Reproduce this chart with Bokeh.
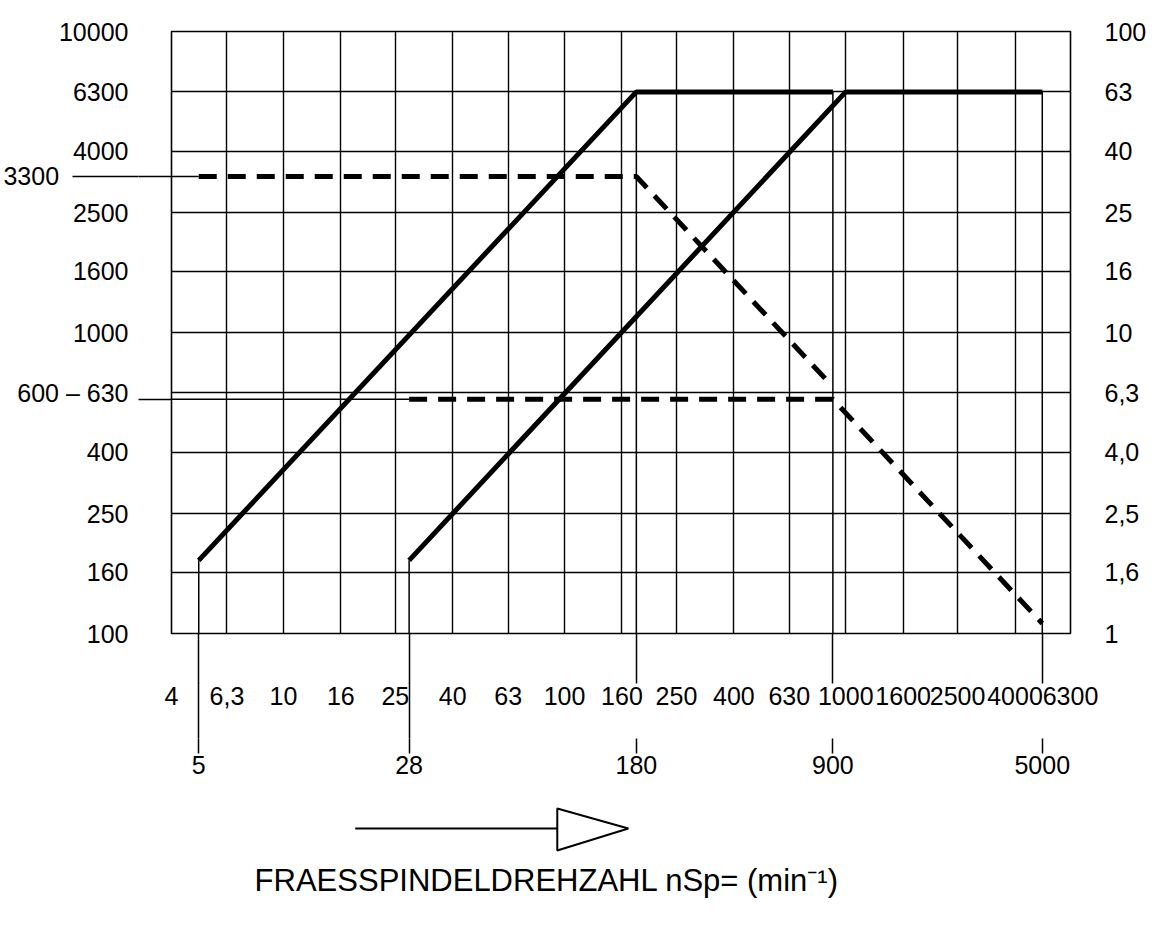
from bokeh.plotting import figure
from bokeh.layouts import column
from bokeh.models import Range1d, LogScale, LogAxis, FixedTicker, Label
from bokeh.embed import file_html
from bokeh.resources import INLINE

# ---------------- data ----------------
x_ticks = [4, 6.3, 10, 16, 25, 40, 63, 100, 160, 250, 400, 630, 1000, 1600, 2500, 4000, 6300]
x_labels = ["4", "6,3", "10", "16", "25", "40", "63", "100", "160", "250", "400", "630",
            "1000", "1600", "2500", "4000", "6300"]
y_ticks = [100, 160, 250, 400, 630, 1000, 1600, 2500, 4000, 6300, 10000]
y_labels = ["100", "160", "250", "400", "630", "1000", "1600", "2500", "4000", "6300", "10000"]
r_ticks = [1, 1.6, 2.5, 4, 6.3, 10, 16, 25, 40, 63, 100]
r_labels = ["1", "1,6", "2,5", "4,0", "6,3", "10", "16", "25", "40", "63", "100"]
mark_x = [5, 28, 180, 900, 5000]            # speeds marked by extra vertical lines
mark_labels = ["5", "28", "180", "900", "5000"]
mark_top = [175, 175, 6300, 6300, 6300]      # where each marker line starts (top)
mark_long = [5, 28]                          # marker lines that run on down to their label

solid1_x = [5, 180, 900]
solid1_y = [175, 6300, 6300]
solid2_x = [28, 1000, 5000]
solid2_y = [175, 6300, 6300]
dash1_x = [5, 180, 870]
dash1_y = [3300, 3300, 683]
dash2_x = [28, 900, 5000]
dash2_y = [600, 600, 108]

ref_levels = [3300, 600]          # levels of the thin leader lines on the left
ref_line_x1 = [5, 28]             # where the leaders meet the dashed lines
ref_label_upper = "3300"
ref_label_lower = "600"

title_text = "FRAESSPINDELDREHZAHL nSp= (min\u207b\u00b9)"
arrow_x = [18.0, 94.2, 168.6]     # shaft start, head base, head tip (speed units)

FONT = "Liberation Sans"
LBL = "25px"

# ---------------- main chart ----------------
p = figure(width=1173, height=800, x_axis_type="log", y_axis_type="log",
           x_range=Range1d(x_ticks[0], x_ticks[-1]), y_range=Range1d(y_ticks[0], y_ticks[-1]),
           output_backend="svg", toolbar_location=None,
           min_border_left=171, min_border_right=103, min_border_top=31, min_border_bottom=167,
           x_axis_location=None, y_axis_location=None)
p.background_fill_color = "white"
p.border_fill_color = "white"
p.outline_line_color = "black"
p.outline_line_width = 1.6

for g, t in ((p.xgrid, x_ticks), (p.ygrid, y_ticks)):
    g.ticker = FixedTicker(ticks=t)
    g.grid_line_color = "black"
    g.grid_line_width = 1.4
    g.grid_line_alpha = 1.0
    g.minor_grid_line_color = None


def style(ax, ticks, labels, standoff, minor=None):
    ax.ticker = FixedTicker(ticks=ticks, minor_ticks=minor or [])
    ax.major_label_overrides = {t: l for t, l in zip(ticks, labels)}
    ax.axis_line_color = None
    ax.major_tick_line_color = None
    ax.minor_tick_line_color = None
    ax.major_label_text_font = FONT
    ax.major_label_text_font_size = LBL
    ax.major_label_text_color = "black"
    ax.major_label_standoff = standoff


# innermost left axis: only the short leader ticks
leadA = LogAxis()
style(leadA, ref_levels, ["", ""], 0)
leadA.major_tick_line_color = "black"
leadA.major_tick_line_width = 1.5
leadA.major_tick_out = 33
leadA.major_tick_in = 0
p.add_layout(leadA, "left")

# main left axis with the value labels; its minor tick extends the upper leader
pad = "\u00a0" * 10
left_ticks = y_ticks + [ref_levels[0]]
left_labels = [(ref_label_lower + " \u2013 " + l) if t == 630 else l for t, l in zip(y_ticks, y_labels)]
left_labels += [ref_label_upper + pad]
left = LogAxis()
style(left, left_ticks, left_labels, -56, minor=[ref_levels[0]])
left.minor_tick_line_color = "black"
left.minor_tick_line_width = 1.5
left.minor_tick_out = 66
left.minor_tick_in = 0
p.add_layout(left, "left")

# right axis
p.extra_y_ranges = {"r": Range1d(r_ticks[0], r_ticks[-1])}
p.extra_y_scales = {"r": LogScale()}
right = LogAxis(y_range_name="r")
style(right, r_ticks, r_labels, 28)
right.major_label_text_align = "left"
p.add_layout(right, "right")

# bottom axis 1: speed scale, its minor ticks continue the marker lines below the frame
bottom1 = LogAxis()
style(bottom1, x_ticks, x_labels, 3, minor=mark_x)
bottom1.minor_tick_line_color = "black"
bottom1.minor_tick_line_width = 1.5
bottom1.minor_tick_out = 50
bottom1.minor_tick_in = 0
bottom1.axis_label = "\u00a0"
bottom1.axis_label_text_font_size = "12px"
bottom1.axis_label_standoff = 14
p.add_layout(bottom1, "below")

# bottom axis 2: marked speeds
bottom2 = LogAxis()
style(bottom2, mark_x, mark_labels, 2, minor=mark_long)
bottom2.major_tick_line_color = "black"
bottom2.major_tick_line_width = 1.5
bottom2.major_tick_out = 15
bottom2.major_tick_in = 0
bottom2.minor_tick_line_color = "black"
bottom2.minor_tick_line_width = 1.5
bottom2.minor_tick_in = 56
bottom2.minor_tick_out = 0
p.add_layout(bottom2, "below")

# marker lines inside the frame
p.segment(x0=mark_x, y0=[y_ticks[0]] * len(mark_x), x1=mark_x, y1=mark_top,
          line_color="black", line_width=1.5)
# leader lines inside the frame
p.segment(x0=[x_ticks[0]] * 2, y0=ref_levels, x1=ref_line_x1, y1=ref_levels,
          line_color="black", line_width=1.5)

# curves
p.line(solid1_x, solid1_y, line_color="black", line_width=5)
p.line(solid2_x, solid2_y, line_color="black", line_width=5)
p.line(dash1_x, dash1_y, line_color="black", line_width=5, line_dash="18 11")
p.line(dash2_x, dash2_y, line_color="black", line_width=5, line_dash="18 11")

# ---------------- arrow and axis title below ----------------
p2 = figure(width=1173, height=133, x_axis_type="log", x_range=p.x_range,
            y_range=Range1d(133, 0), output_backend="svg", toolbar_location=None,
            min_border_left=171, min_border_right=103, min_border_top=0, min_border_bottom=0,
            x_axis_location=None, y_axis_location=None)
p2.outline_line_color = None
p2.background_fill_color = "white"
p2.border_fill_color = "white"
p2.xgrid.visible = False
p2.ygrid.visible = False

p2.line(x=arrow_x[:2], y=[28, 28], line_color="black", line_width=2)
p2.patch(x=[arrow_x[1], arrow_x[2], arrow_x[1]], y=[8, 28, 50],
         fill_color="white", line_color="black", line_width=2)
p2.add_layout(Label(x=7.9, y=80, text=title_text, text_align="left", text_baseline="middle",
                    text_font=FONT, text_font_size="31px", text_color="black"))

layout = column(p, p2, spacing=0)
open("out.html", "w").write(file_html(layout, INLINE))
